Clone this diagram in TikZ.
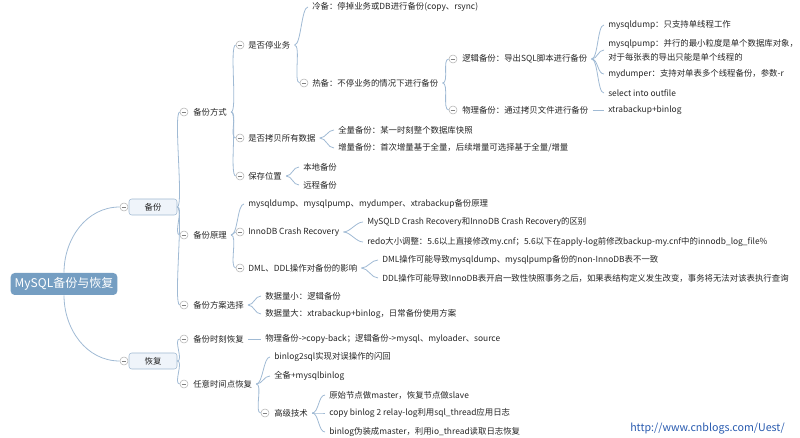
\documentclass[tikz,border=0pt]{standalone}
\usepackage{fontspec}
\setmainfont{Noto Sans CJK SC}
\usepackage{tikz}
\definecolor{rootblue}{RGB}{117,158,194}
\definecolor{boxfill}{RGB}{239,244,250}
\definecolor{boxline}{RGB}{160,185,210}
\definecolor{linecol}{RGB}{160,186,212}
\definecolor{urlblue}{RGB}{40,90,175}
\begin{document}
\begin{tikzpicture}[x=0.75pt,y=-0.75pt,font=\fontsize{6.3pt}{10.5pt}\selectfont,
txt/.style={anchor=west,inner xsep=3pt,inner ysep=1pt,text=black!85},
fold/.style={circle,draw=gray!60,fill=white,minimum size=6pt,inner sep=0pt,path picture={\draw[gray,line width=0.5pt]([xshift=1.2pt]path picture bounding box.west)--([xshift=-1.2pt]path picture bounding box.east);}},
mainbox/.style={draw=boxline,fill=boxfill,rounded corners=2pt,minimum width=36pt,minimum height=12pt,inner sep=0pt,text=black!85},
ln/.style={draw=linecol,line width=0.6pt},
br/.style={out=0,in=180,max distance=5pt}]
\useasboundingbox (0,0) rectangle (800,438);
\node[fill=rootblue,text=white,rounded corners=3pt,minimum width=80pt,minimum height=16.5pt,inner sep=0pt,font=\fontsize{9pt}{10pt}\selectfont](root) at (64,284){MySQL备份与恢复};
\node[fold](obf) at (124,207){};\node[mainbox](bf) at (153,207){备份};
\node[fold](ohf) at (124,361){};\node[mainbox](hf) at (153,361){恢复};
\node[fold](ofs) at (184,112){};\node[txt](fs) at (189,112){备份方式};
\node[fold](oyl) at (184,235){};\node[txt](yl) at (189,235){备份原理};
\node[fold](ofa) at (184,305){};\node[txt](fa) at (189,305){备份方案选择};
\node[fold](osk) at (184,339){};\node[txt](sk) at (189,339){备份时刻恢复};
\node[fold](ors) at (184,384){};\node[txt](rs) at (189,384){任意时间点恢复};
\node[fold](otz) at (240,45){};\node[txt](tz) at (244,45){是否停业务};
\node[fold](okb) at (240,138){};\node[txt](kb) at (244,138){是否拷贝所有数据};
\node[fold](owz) at (240,176){};\node[txt](wz) at (244,176){保存位置};
\node[txt](yl1) at (244,204){mysqldump、mysqlpump、mydumper、xtrabackup备份原理};
\node[fold](ocr) at (240,232){};\node[txt](cr) at (244,232){InnoDB Crash Recovery};
\node[fold](odd) at (240,268){};\node[txt](dd) at (244,268){DML、DDL操作对备份的影响};
\node[txt](fa1) at (261,296){数据量小：逻辑备份};
\node[txt](fa2) at (261,314){数据量大：xtrabackup+binlog，日常备份使用方案};
\node[txt](sk1) at (261,339){物理备份->copy-back；逻辑备份->mysql、myloader、source};
\node[txt](rs1) at (270,357){binlog2sql实现对误操作的闪回};
\node[txt](rs2) at (270,376){全备+mysqlbinlog};
\node[fold](ogj) at (265,413){};\node[txt](gj) at (270,413){高级技术};
\node[txt](lb) at (308,7){冷备：停掉业务或DB进行备份(copy、rsync)};
\node[fold](orb) at (304,83){};\node[txt](rb) at (308,83){热备：不停业务的情况下进行备份};
\node[txt](kb1) at (334,130){全量备份：某一时刻整个数据库快照};
\node[txt](kb2) at (334,148){增量备份：首次增量基于全量，后续增量可选择基于全量/增量};
\node[txt](wz1) at (299,167){本地备份};
\node[txt](wz2) at (299,185){远程备份};
\node[txt](cr1) at (363,222){MySQLD Crash Recovery和InnoDB Crash Recovery的区别};
\node[txt](cr2) at (363,242){redo大小调整：5.6以上直接修改my.cnf；5.6以下在apply-log前修改backup-my.cnf中的innodb\_log\_file\%};
\node[txt](dd1) at (378,260){DML操作可能导致mysqldump、mysqlpump备份的non-InnoDB表不一致};
\node[txt](dd2) at (378,278){DDL操作可能导致InnoDB表开启一致性快照事务之后，如果表结构定义发生改变，事务将无法对该表执行查询};
\node[txt](gj1) at (325,395){原始节点做master，恢复节点做slave};
\node[txt](gj2) at (325,413){copy binlog 2 relay-log利用sql\_thread应用日志};
\node[txt](gj3) at (325,432){binlog伪装成master，利用io\_thread读取日志恢复};
\node[fold](olj) at (453,59){};\node[txt](lj) at (458,59){逻辑备份：导出SQL脚本进行备份};
\node[fold](owl) at (453,110){};\node[txt](wl) at (458,110){物理备份：通过拷贝文件进行备份};
\node[txt](lj1) at (604,25){mysqldump：只支持单线程工作};
\node[txt,align=left](lj2) at (604,50){mysqlpump：并行的最小粒度是单个数据库对象，\\对于每张表的导出只能是单个线程的};
\node[txt](lj3) at (604,74){mydumper：支持对单表多个线程备份，参数-r};
\node[txt](lj4) at (604,93){select into outfile};
\node[txt](wl1) at (604,110){xtrabackup+binlog};
\node[anchor=west,inner sep=0pt,text=urlblue,font=\fontsize{8pt}{9pt}\selectfont](url) at (630,429){http://www.cnblogs.com/Uest/};
\draw[ln](root.north) to[out=90,in=180] (obf.west);
\draw[ln](root.south) to[out=-90,in=180] (ohf.west);
\draw[ln](bf.east) to[br] (ofs.west);\draw[ln](bf.east) to[br] (oyl.west);\draw[ln](bf.east) to[br] (ofa.west);
\draw[ln](hf.east) to[br] (osk.west);\draw[ln](hf.east) to[br] (ors.west);
\draw[ln](fs.east) to[br] (otz.west);\draw[ln](fs.east) to[br] (okb.west);\draw[ln](fs.east) to[br] (owz.west);
\draw[ln](tz.east) to[br] (lb.west);\draw[ln](tz.east) to[br] (orb.west);
\draw[ln](rb.east) to[br] (olj.west);\draw[ln](rb.east) to[br] (owl.west);
\draw[ln](lj.east) to[br] (lj1.west);\draw[ln](lj.east) to[br] (lj2.west);\draw[ln](lj.east) to[br] (lj3.west);\draw[ln](lj.east) to[br] (lj4.west);
\draw[ln](wl.east)--(wl1.west);
\draw[ln](kb.east) to[br] (kb1.west);\draw[ln](kb.east) to[br] (kb2.west);
\draw[ln](wz.east) to[br] (wz1.west);\draw[ln](wz.east) to[br] (wz2.west);
\draw[ln](yl.east) to[br] (yl1.west);\draw[ln](yl.east) to[br] (ocr.west);\draw[ln](yl.east) to[br] (odd.west);
\draw[ln](cr.east) to[br] (cr1.west);\draw[ln](cr.east) to[br] (cr2.west);
\draw[ln](dd.east) to[br] (dd1.west);\draw[ln](dd.east) to[br] (dd2.west);
\draw[ln](fa.east) to[br] (fa1.west);\draw[ln](fa.east) to[br] (fa2.west);
\draw[ln](sk.east)--(sk1.west);
\draw[ln](rs.east) to[br] (rs1.west);\draw[ln](rs.east) to[br] (rs2.west);\draw[ln](rs.east) to[br] (ogj.west);
\draw[ln](gj.east) to[br] (gj1.west);\draw[ln](gj.east) to[br] (gj2.west);\draw[ln](gj.east) to[br] (gj3.west);
\end{tikzpicture}
\end{document}
